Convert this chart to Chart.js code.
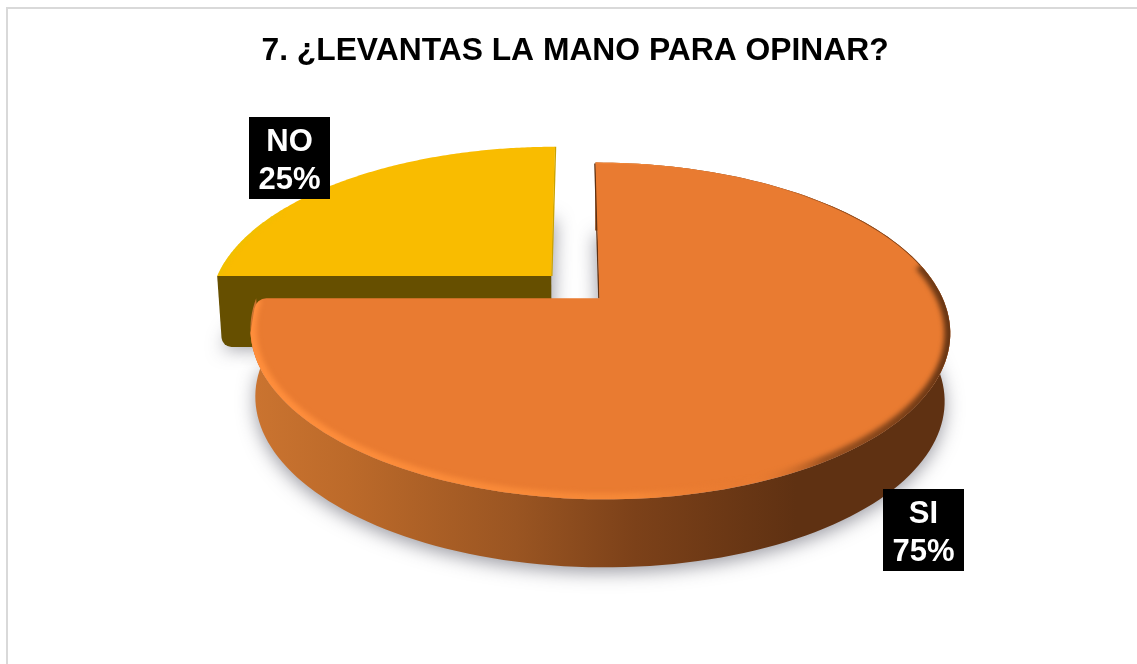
<!DOCTYPE html>
<html>
<head>
<meta charset="utf-8">
<script src="https://cdn.jsdelivr.net/npm/chart.js@4/dist/chart.umd.js"></script>
<style>
    body { margin: 0; background: #fff; }
    #wrap { position: relative; width: 1137px; height: 664px; overflow: hidden; }
    #frame { position: absolute; left: 6px; top: 7px; right: -10px; bottom: -10px; border: 2px solid #d9d9d9; }
    canvas { position: absolute; left: 0; top: 0; }
</style>
</head>
<body>
<div id="wrap">
    <div id="frame"></div>
    <canvas id="myChart" width="1137" height="664"></canvas>
</div>
<script>
const title = '7. ¿LEVANTAS LA MANO PARA OPINAR?'
const categories = ['NO', 'SI']
const percents = [25, 75]
const faceColors = ['#F9BC00', '#E97B31']

// perspective of the disc, the flat pie from the library is projected through this
const view = { cx: 575, cy: 287, rx: 338.6, ry: 157.7, k: 0.191, depth: 68, shrink: 0.985 }

function project(u, v) {
    const s = 1 / (1 + view.k * v)
    return { x: view.cx + view.rx * u * s, y: view.cy - view.ry * v * s }
}

function lower(p) {
    return { x: view.cx + (p.x - view.cx) * view.shrink, y: p.y + view.depth }
}

function openLine(ctx, pts, dx) {
    ctx.beginPath()
    pts.forEach((p, i) => i ? ctx.lineTo(p.x + (dx || 0), p.y) : ctx.moveTo(p.x + (dx || 0), p.y))
}

function wallGradient(ctx) {
    const g = ctx.createLinearGradient(250, 0, 950, 0)
    g.addColorStop(0, '#CB7430')
    g.addColorStop(0.14, '#BC6A2A')
    g.addColorStop(0.38, '#9A5522')
    g.addColorStop(0.55, '#7C4119')
    g.addColorStop(0.78, '#5F3112')
    g.addColorStop(1, '#5F3112')
    return g
}

Chart.ArcElement.prototype.draw = function (ctx) {
    const isNo = this.$context.dataIndex === 0
    const start = this.startAngle
    const end = this.endAngle
    const mid = (start + end) / 2
    const d = this.options.offset / this.outerRadius
    const ou = Math.cos(mid) * d
    const ov = -Math.sin(mid) * d

    const apex = project(ou, ov)
    const rim = []
    for (let i = 0; i <= 160; i++) {
        const a = start + (end - start) * i / 160
        rim.push(project(ou + Math.cos(a), ov - Math.sin(a)))
    }
    const low = rim.map(lower)
    const apexLow = lower(apex)

    ctx.save()

    // soft shadow of the bottom disc, the shape itself stays off the canvas
    ctx.save()
    ctx.shadowColor = 'rgba(60,60,75,0.5)'
    ctx.shadowBlur = 18
    ctx.shadowOffsetX = 3000
    ctx.shadowOffsetY = 5
    ctx.fillStyle = '#000'
    openLine(ctx, [apexLow].concat(low), -3000)
    ctx.closePath()
    ctx.fill()
    ctx.restore()

    if (isNo) {
        // flat cut facing the viewer, corner rounded at the bottom left
        const left = rim[0]
        const bottom = low[0].y + 3
        ctx.fillStyle = '#664F00'
        ctx.beginPath()
        ctx.moveTo(apex.x, apex.y)
        ctx.lineTo(left.x, left.y)
        ctx.arcTo(left.x + 5, bottom, apexLow.x, bottom, 10)
        ctx.lineTo(apexLow.x, bottom)
        ctx.closePath()
        ctx.fill()
        ctx.strokeStyle = '#C9A200'
        ctx.lineWidth = 1.5
        ctx.beginPath()
        ctx.moveTo(rim[160].x + 0.5, rim[160].y)
        ctx.lineTo(apex.x + 0.5, apex.y)
        ctx.stroke()
    } else {
        // outer wall
        ctx.fillStyle = wallGradient(ctx)
        openLine(ctx, rim.concat(low.slice().reverse()))
        ctx.closePath()
        ctx.fill()
        ctx.strokeStyle = '#5F3112'
        ctx.lineWidth = 1.5
        ctx.beginPath()
        ctx.moveTo(rim[0].x - 0.5, rim[0].y + 1)
        ctx.lineTo(apex.x - 0.5, apex.y)
        ctx.stroke()
    }

    // top face
    ctx.beginPath()
    ctx.moveTo(apex.x, apex.y)
    const cut = isNo ? 0 : 7
    rim.slice(0, rim.length - cut).forEach(p => ctx.lineTo(p.x, p.y))
    if (cut) {
        const corner = rim[rim.length - 1]
        ctx.arcTo(corner.x, corner.y, apex.x, apex.y, 12)
    }
    ctx.closePath()
    ctx.fillStyle = this.options.backgroundColor
    ctx.fill()

    // bevel along the rim
    ctx.save()
    ctx.clip()
    const bevel = ctx.createLinearGradient(250, 0, 950, 0)
    if (isNo) {
        bevel.addColorStop(0, '#E8C400')
        bevel.addColorStop(0.3, 'rgba(249,188,0,0)')
    } else {
        bevel.addColorStop(0, '#FF8E3C')
        bevel.addColorStop(0.55, '#F58837')
        bevel.addColorStop(0.72, 'rgba(233,123,49,0)')
        bevel.addColorStop(0.82, 'rgba(95,49,18,0.55)')
        bevel.addColorStop(1, 'rgba(95,49,18,0.95)')
    }
    ctx.filter = 'blur(2.5px)'
    ctx.strokeStyle = bevel
    ctx.lineWidth = isNo ? 3 : 12
    openLine(ctx, isNo ? rim.slice(0, 50) : rim.slice(46))
    ctx.stroke()
    if (!isNo) {
        // thin dark edge on the back of the disc
        ctx.filter = 'blur(0.5px)'
        ctx.lineWidth = 1.5
        openLine(ctx, rim.slice(0, 47))
        ctx.stroke()
    }
    ctx.restore()

    ctx.restore()
}

const labelBoxes = {
    id: 'labelBoxes',
    afterDatasetsDraw(chart) {
        const ctx = chart.ctx
        const anchors = [{ x: 249, y: 117 }, { x: 883, y: 489 }]
        ctx.save()
        ctx.font = 'bold 31px "Liberation Sans", Arial, sans-serif'
        ctx.textAlign = 'center'
        ctx.textBaseline = 'alphabetic'
        categories.forEach((name, i) => {
            const a = anchors[i]
            ctx.fillStyle = '#000'
            ctx.fillRect(a.x, a.y, 81, 82)
            ctx.fillStyle = '#fff'
            ctx.fillText(name, a.x + 40.5, a.y + 34)
            ctx.fillText(percents[i] + '%', a.x + 40.5, a.y + 72)
        })
        ctx.restore()
    }
}

new Chart(document.getElementById('myChart').getContext('2d'), {
    type: 'pie',
    data: {
        labels: categories,
        datasets: [{
            data: percents,
            backgroundColor: faceColors,
            borderWidth: 0,
            offset: 27,
        }],
    },
    options: {
        responsive: false,
        animation: false,
        rotation: 270,
        layout: { padding: { top: 0, bottom: 20, left: 13 } },
        plugins: {
            legend: { display: false },
            tooltip: { enabled: false },
            title: {
                display: true,
                text: title,
                color: '#000',
                font: { family: '"Liberation Sans", Arial, sans-serif', size: 31.8, weight: 'bold' },
                padding: { top: 32, bottom: 10 },
            },
        },
    },
    plugins: [labelBoxes],
})
</script>
</body>
</html>
